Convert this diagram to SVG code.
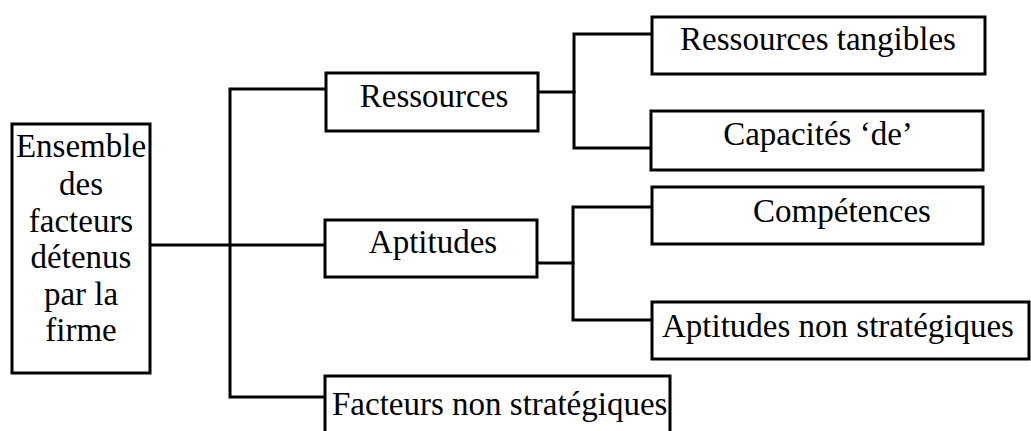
<svg xmlns="http://www.w3.org/2000/svg" width="1031" height="431" viewBox="0 0 1031 431">
<style>
.box{fill:#fff;stroke:#000;stroke-width:3}
.t{font-family:"Liberation Serif","Times New Roman",serif;font-size:33px;fill:#000}
.c{text-anchor:middle}
.ln{fill:none;stroke:#000;stroke-width:3;stroke-linecap:square;stroke-linejoin:miter}
</style>
<rect width="1031" height="431" fill="#fff"/>
<g id="connectors" class="ln">
<path d="M150,245 H325"/>
<path d="M326,89 H230 V397 H325"/>
<path d="M538,92 H574"/>
<path d="M652,34 H574 V148 H651"/>
<path d="M537,263 H573"/>
<path d="M652,207 H573 V320 H652"/>
</g>
<g id="n-ensemble">
<rect class="box" x="12" y="124" width="138" height="249"/>
<text class="t c" x="81" y="157">Ensemble</text>
<text class="t c" x="81" y="195">des</text>
<text class="t c" x="81" y="232">facteurs</text>
<text class="t c" x="81" y="268">détenus</text>
<text class="t c" x="81" y="305">par la</text>
<text class="t c" x="81" y="341">firme</text>
</g>
<g id="n-ressources">
<rect class="box" x="326" y="73" width="212" height="58"/>
<text class="t c" x="434" y="107">Ressources</text>
</g>
<g id="n-aptitudes">
<rect class="box" x="325" y="220" width="212" height="57"/>
<text class="t c" x="433" y="253">Aptitudes</text>
</g>
<g id="n-facteurs">
<rect class="box" x="325" y="376" width="345" height="70"/>
<text class="t" x="332" y="415">Facteurs non stratégiques</text>
</g>
<g id="n-tangibles">
<rect class="box" x="652" y="17" width="333" height="57"/>
<text class="t c" x="818" y="50">Ressources tangibles</text>
</g>
<g id="n-capacites">
<rect class="box" x="651" y="111" width="332" height="59"/>
<text class="t c" x="818" y="145">Capacités ‘de’</text>
</g>
<g id="n-competences">
<rect class="box" x="652" y="187" width="331" height="57"/>
<text class="t c" x="842" y="222">Compétences</text>
</g>
<g id="n-aptitudes-ns">
<rect class="box" x="652" y="302" width="377" height="57"/>
<text class="t" x="662" y="337">Aptitudes non stratégiques</text>
</g>
</svg>
